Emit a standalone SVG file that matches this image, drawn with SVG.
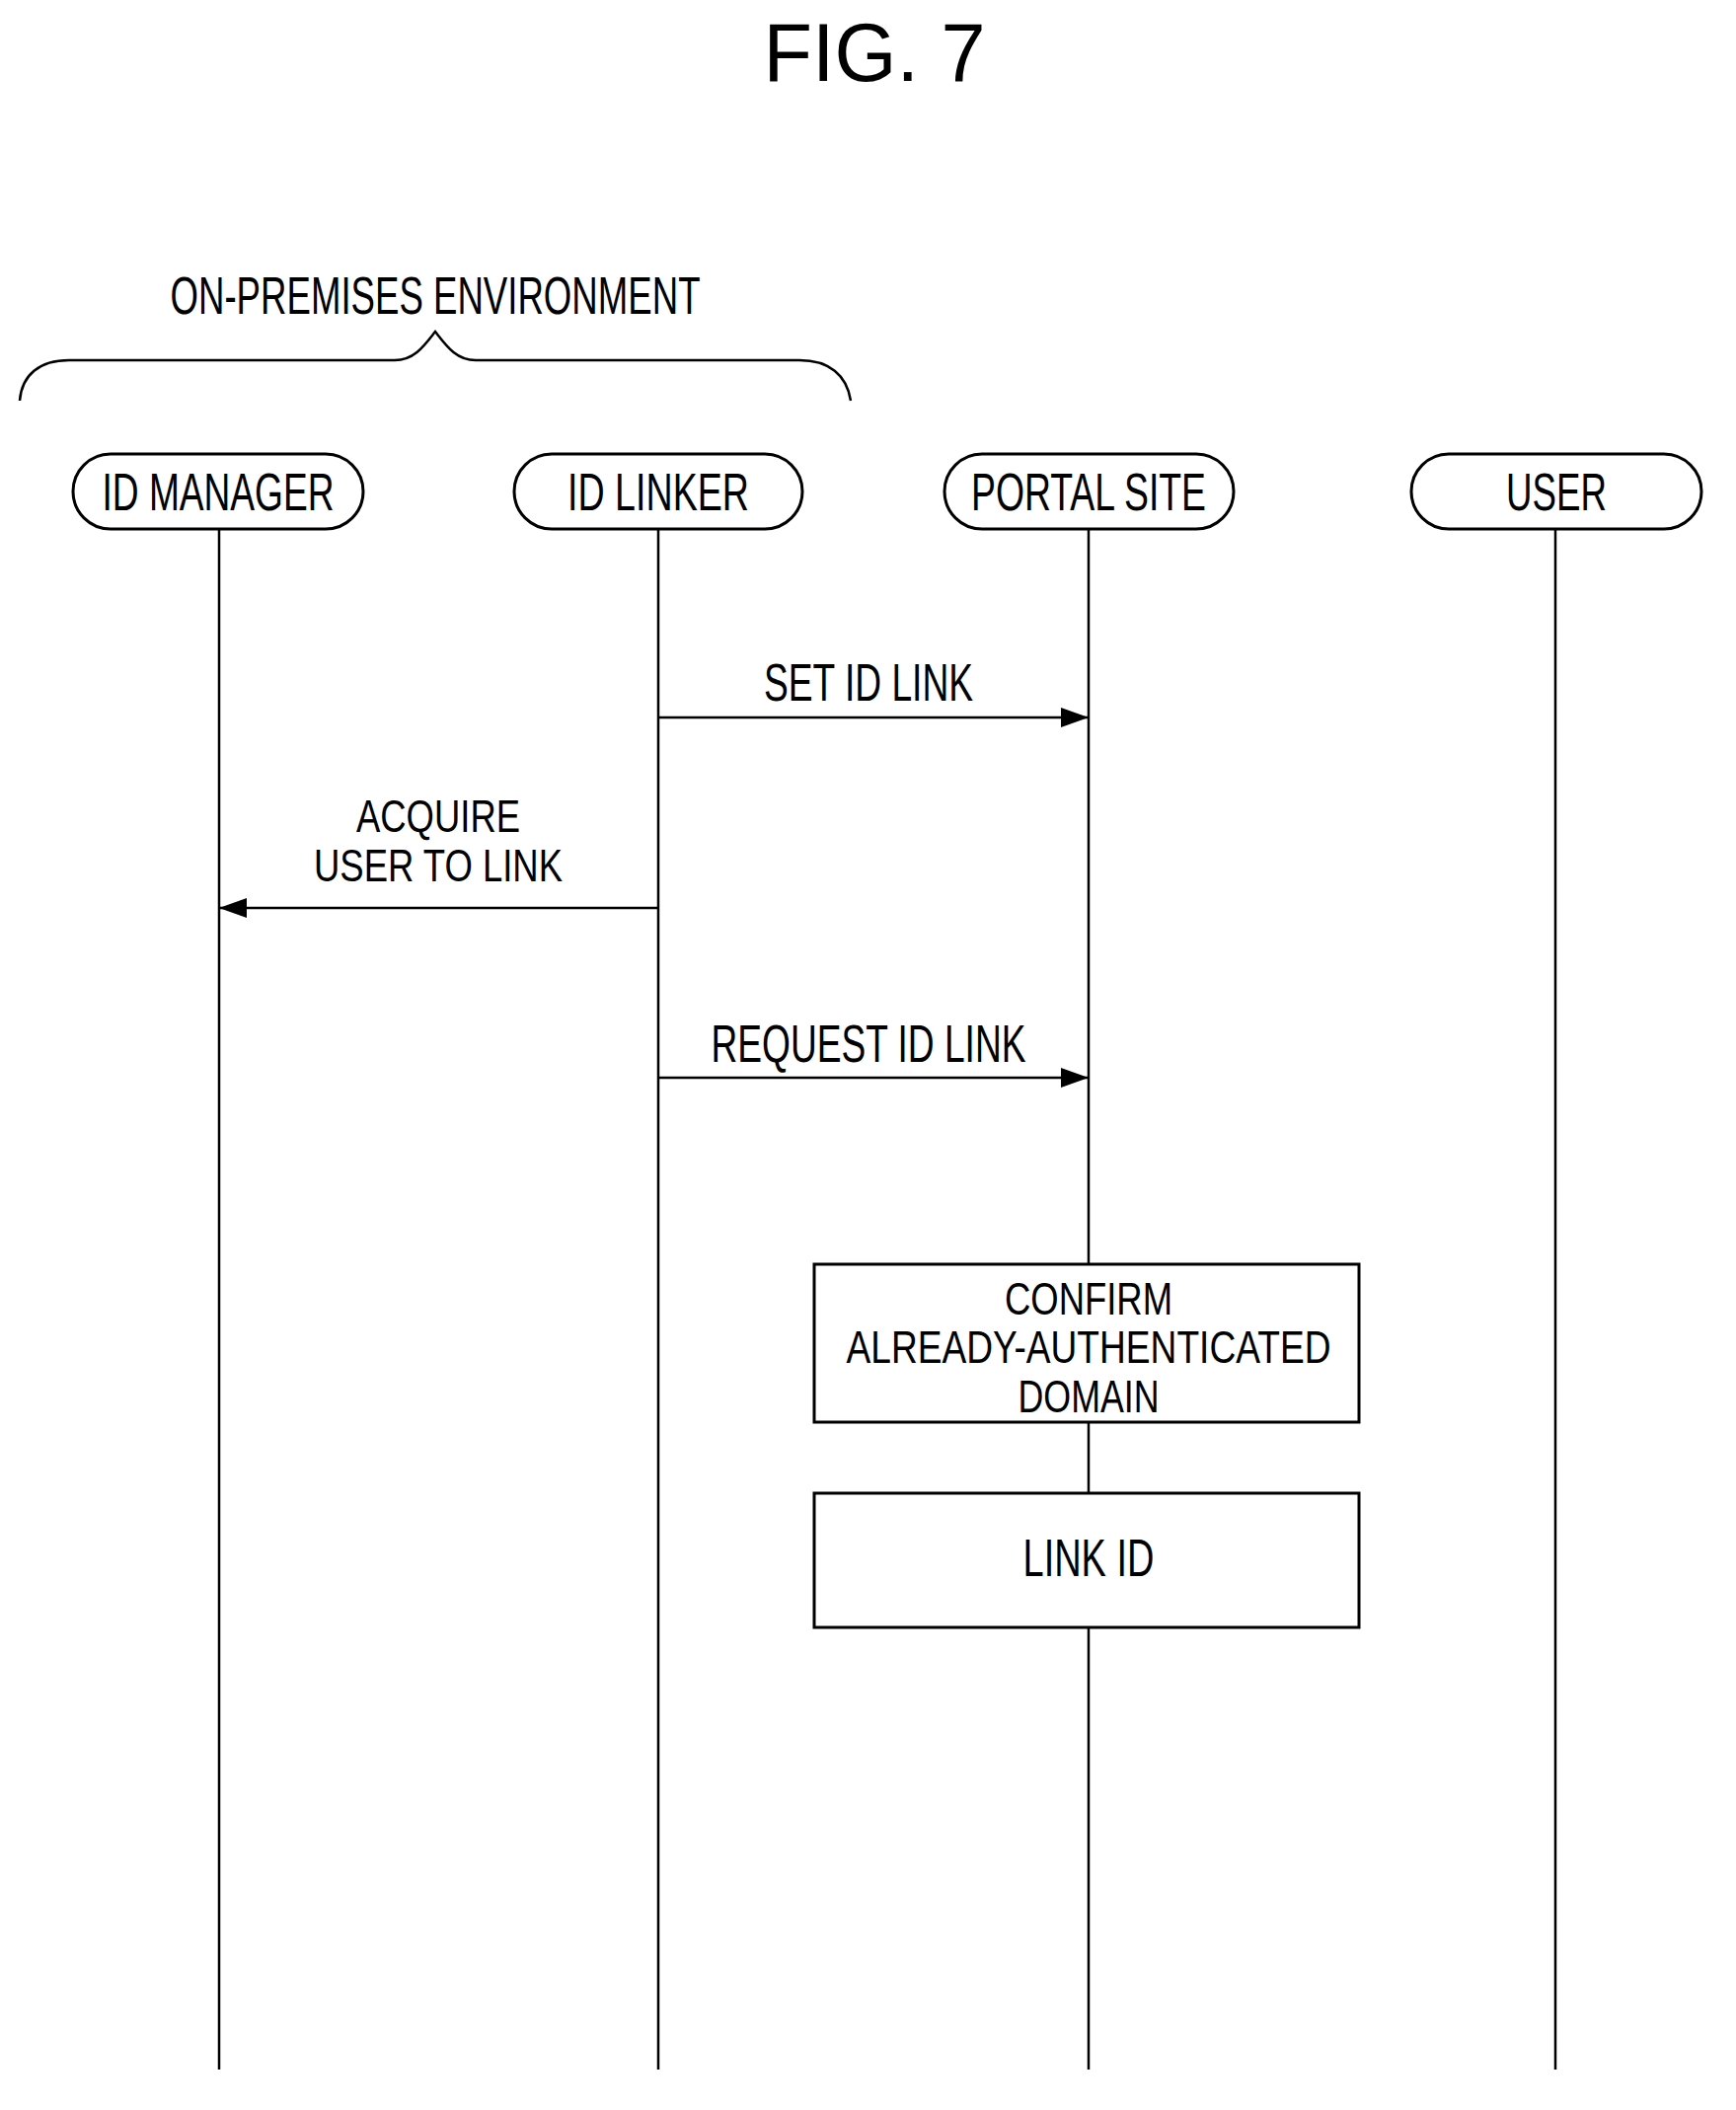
<svg xmlns="http://www.w3.org/2000/svg" width="1759" height="2138" viewBox="0 0 1759 2138">
<style>
text{font-family:"Liberation Sans",Arial,sans-serif;fill:#000;text-anchor:middle;font-size:54px}
.s{font-size:46px}
.t{font-size:84px}
.n{fill:#fff;stroke:#000;stroke-width:3}
.l{stroke:#000;stroke-width:2.5;fill:none}
</style>
<defs>
<marker id="ah" viewBox="0 0 28 20" refX="28" refY="10" markerWidth="28" markerHeight="20" orient="auto" markerUnits="userSpaceOnUse"><path d="M0,0L28,10L0,20z"/></marker></defs>
<rect width="1759" height="2138" fill="#fff"/>
<text class="t" x="886" y="82" textLength="225" lengthAdjust="spacingAndGlyphs">FIG. 7</text>
<text x="441" y="318" textLength="537" lengthAdjust="spacingAndGlyphs">ON-PREMISES ENVIRONMENT</text>
<path class="l" d="M20,406 C22,380 40,365 70,365 L400,365 C420,365 430,350 441,336 C452,350 462,365 482,365 L810,365 C840,365 858,380 862,406"/>
<g id="lifelines">
<line class="l" x1="222" y1="536" x2="222" y2="2097"/>
<line class="l" x1="667" y1="536" x2="667" y2="2097"/>
<line class="l" x1="1103" y1="536" x2="1103" y2="2097"/>
<line class="l" x1="1576" y1="536" x2="1576" y2="2097"/>
</g>
<g id="idmanager"><rect class="n" x="74" y="460" width="294" height="76" rx="38"/><text x="221" y="517" textLength="235" lengthAdjust="spacingAndGlyphs">ID MANAGER</text></g>
<g id="idlinker"><rect class="n" x="521" y="460" width="292" height="76" rx="38"/><text x="667" y="517" textLength="184" lengthAdjust="spacingAndGlyphs">ID LINKER</text></g>
<g id="portal"><rect class="n" x="957" y="460" width="293" height="76" rx="38"/><text x="1103" y="517" textLength="238" lengthAdjust="spacingAndGlyphs">PORTAL SITE</text></g>
<g id="user"><rect class="n" x="1430" y="460" width="294" height="76" rx="38"/><text x="1577" y="517" textLength="102" lengthAdjust="spacingAndGlyphs">USER</text></g>
<g id="connectors">
<line class="l" x1="667" y1="727" x2="1103" y2="727" marker-end="url(#ah)"/>
<text x="880" y="710" textLength="212" lengthAdjust="spacingAndGlyphs">SET ID LINK</text>
<line class="l" x1="667" y1="920" x2="222" y2="920" marker-end="url(#ah)"/>
<text class="s" x="444" y="843" textLength="166" lengthAdjust="spacingAndGlyphs">ACQUIRE</text>
<text class="s" x="444" y="893" textLength="252" lengthAdjust="spacingAndGlyphs">USER TO LINK</text>
<line class="l" x1="667" y1="1092" x2="1103" y2="1092" marker-end="url(#ah)"/>
<text x="880" y="1076" textLength="319" lengthAdjust="spacingAndGlyphs">REQUEST ID LINK</text>
</g>
<g id="confirm"><rect class="n" x="825" y="1281" width="552" height="160"/>
<text class="s" x="1103" y="1332" textLength="170" lengthAdjust="spacingAndGlyphs">CONFIRM</text>
<text class="s" x="1103" y="1381" textLength="491" lengthAdjust="spacingAndGlyphs">ALREADY-AUTHENTICATED</text>
<text class="s" x="1103" y="1431" textLength="143" lengthAdjust="spacingAndGlyphs">DOMAIN</text></g>
<g id="linkid"><rect class="n" x="825" y="1513" width="552" height="136"/>
<text x="1103" y="1597" textLength="133" lengthAdjust="spacingAndGlyphs">LINK ID</text></g>
</svg>
